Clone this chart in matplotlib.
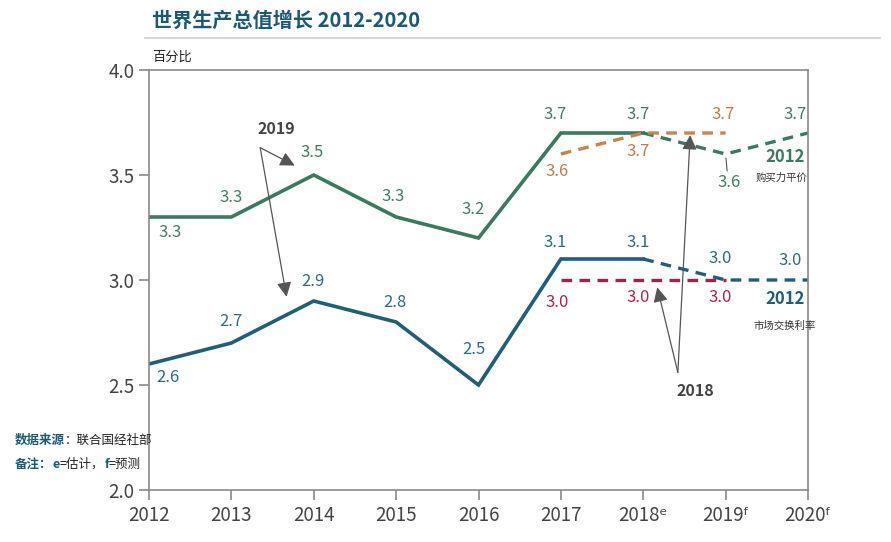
import matplotlib
matplotlib.use("Agg")
import matplotlib.pyplot as plt
from matplotlib.lines import Line2D

plt.rcParams['font.family'] = ['Noto Sans CJK SC', 'DejaVu Sans']

# 数据
years = [2012, 2013, 2014, 2015, 2016, 2017, 2018, 2019, 2020]
year_labels = ['2012', '2013', '2014', '2015', '2016', '2017', '2018ᵉ', '2019ᶠ', '2020ᶠ']

ppp_actual = [3.3, 3.3, 3.5, 3.3, 3.2, 3.7, 3.7]      # 2012-2018
ppp_fc2012 = [3.7, 3.6, 3.7]                          # 2018-2020
ppp_fc2018 = [3.6, 3.7, 3.7]                          # 2017-2019
mer_actual = [2.6, 2.7, 2.9, 2.8, 2.5, 3.1, 3.1]      # 2012-2018
mer_fc2012 = [3.1, 3.0, 3.0]                          # 2018-2020
mer_fc2018 = [3.0, 3.0, 3.0]                          # 2017-2019

c_green = '#3b7a5e'
c_blue = '#215f78'
c_orange = '#c8834f'
c_red = '#a8204a'
c_text_green = '#457d60'
c_text_blue = '#2f6b80'
c_text_orange = '#c27c4c'
c_text_red = '#a82452'
c_axis = '#8a8a8a'
c_title = '#1d5a72'

fig = plt.figure(figsize=(8.91, 5.42), dpi=100)
ax = fig.add_axes([149/891, 1-490/542, (808-149)/891, (490-70)/542])

dash = (0, (3.2, 2.2))
ax.plot(years[:7], ppp_actual, color=c_green, lw=2.6, solid_joinstyle='miter')
ax.plot(years[6:9], ppp_fc2012, color=c_green, lw=2.4, ls=dash)
ax.plot(years[5:8], ppp_fc2018, color=c_orange, lw=2.4, ls=dash)
ax.plot(years[:7], mer_actual, color=c_blue, lw=2.6, solid_joinstyle='miter')
ax.plot(years[5:8], mer_fc2018, color=c_red, lw=2.4, ls=dash)
ax.plot(years[6:9], mer_fc2012, color=c_blue, lw=2.4, ls=dash)

ax.set_xlim(2012, 2020)
ax.set_ylim(2.0, 4.0)
ax.set_xticks(years)
ax.set_xticklabels(year_labels)
ax.set_yticks([2.0, 2.5, 3.0, 3.5, 4.0])
ax.set_yticklabels(['2.0', '2.5', '3.0', '3.5', '4.0'])
ax.tick_params(colors=c_axis, labelcolor='#444444', labelsize=13.5, length=7, width=1.2)
for s in ax.spines.values():
    s.set_color(c_axis)
    s.set_linewidth(1.2)


def px(v):
    return v * 0.72


def label_points(xs, vals, offsets, color):
    for x, v, (dx, dy) in zip(xs, vals, offsets):
        ax.annotate(f'{v:.1f}', (x, v), xytext=(px(dx), px(dy)), textcoords='offset points',
                    ha='center', va='center', fontsize=12, color=color)


# 数值标签 (偏移, 像素)
label_points(years[:7] + [2019, 2020], ppp_actual + ppp_fc2012[1:],
             [(21, -15), (0, 20), (-2, 22), (-3, 21), (-5, 28), (-6, 18), (-5, 18), (3, -29), (-13, 18)],
             c_text_green)
label_points(years[5:8], ppp_fc2018, [(-4, -18), (-5, -19), (-3, 18)], c_text_orange)
label_points(years[:7] + [2019, 2020], mer_actual + mer_fc2012[1:],
             [(19, -14), (0, 21), (-1, 19), (-1, 20), (-5, 35), (-6, 16), (-5, 16), (-5, 21), (-18, 19)],
             c_text_blue)
label_points(years[5:8], mer_fc2018, [(-4, -23), (-5, -18), (-5, -18)], c_text_red)

# 2019 的 3.6 引线
ax.annotate('', (2019, ppp_fc2012[1]), xytext=(px(1.5), px(-17)), textcoords='offset points',
            arrowprops=dict(arrowstyle='-', color='#555555', lw=0.8, shrinkA=0, shrinkB=3))

# 系列名称
ax.annotate('2012', (2020, ppp_fc2012[-1]), xytext=(px(-23), px(-24)), textcoords='offset points',
            ha='center', va='center', fontsize=12, fontweight='bold', color=c_green)
ax.annotate('购买力平价', (2020, ppp_fc2012[-1]), xytext=(px(-26), px(-45)), textcoords='offset points',
            ha='center', va='center', fontsize=7.5, color='#333333')
ax.annotate('2012', (2020, mer_fc2012[-1]), xytext=(px(-23), px(-19)), textcoords='offset points',
            ha='center', va='center', fontsize=12, fontweight='bold', color=c_blue)
ax.annotate('市场交换利率', (2020, mer_fc2012[-1]), xytext=(px(-23), px(-46)), textcoords='offset points',
            ha='center', va='center', fontsize=7.5, color='#333333')

# 箭头注释
arrow_kw = dict(arrowstyle='-|>', color='#555555', lw=0.9, mutation_scale=22, shrinkA=0, shrinkB=0)
ax.text(2013.55, 3.72, '2019', ha='center', va='center', fontsize=11.5, fontweight='bold', color='#444444')
ax.annotate('', xy=(2013.77, 3.545), xytext=(2013.35, 3.63), arrowprops=arrow_kw)
ax.annotate('', xy=(2013.67, 2.92), xytext=(2013.35, 3.63), arrowprops=arrow_kw)

ax.text(2018.63, 2.47, '2018', ha='center', va='center', fontsize=11.5, fontweight='bold', color='#444444')
ax.annotate('', xy=(2018.17, 2.965), xytext=(2018.42, 2.56), arrowprops=arrow_kw)
ax.annotate('', xy=(2018.57, 3.69), xytext=(2018.42, 2.56), arrowprops=arrow_kw)

# 标题
fig.text(152/891, 1-20/542, '世界生产总值增长 2012-2020', ha='left', va='center',
         fontsize=14.5, fontweight='bold', color=c_title)
fig.add_artist(Line2D([145/891, 880/891], [1-38/542, 1-38/542], color='#cfcfcf', lw=1.2))
fig.text(152/891, 1-57/542, '百分比', ha='left', va='center', fontsize=9.5, color='#222222')


# 数据来源 / 备注: 分段着色, 依次拼接
def chain_text(x0, y0, parts):
    renderer = fig.canvas.get_renderer()
    x = x0
    for s, color, weight in parts:
        t = fig.text(x, y0, s, ha='left', va='center', fontsize=9, color=color, fontweight=weight)
        bb = t.get_window_extent(renderer=renderer)
        x += bb.width / fig.bbox.width


chain_text(15/891, 1-440/542, [('数据来源', c_title, 'bold'), ('：联合国经社部', '#222222', 'normal')])
chain_text(15/891, 1-464/542, [('备注：', c_title, 'bold'), ('e', c_title, 'bold'), ('=估计，', '#222222', 'normal'),
                               ('f', c_title, 'bold'), ('=预测', '#222222', 'normal')])

fig.savefig('out.png', dpi=100)
